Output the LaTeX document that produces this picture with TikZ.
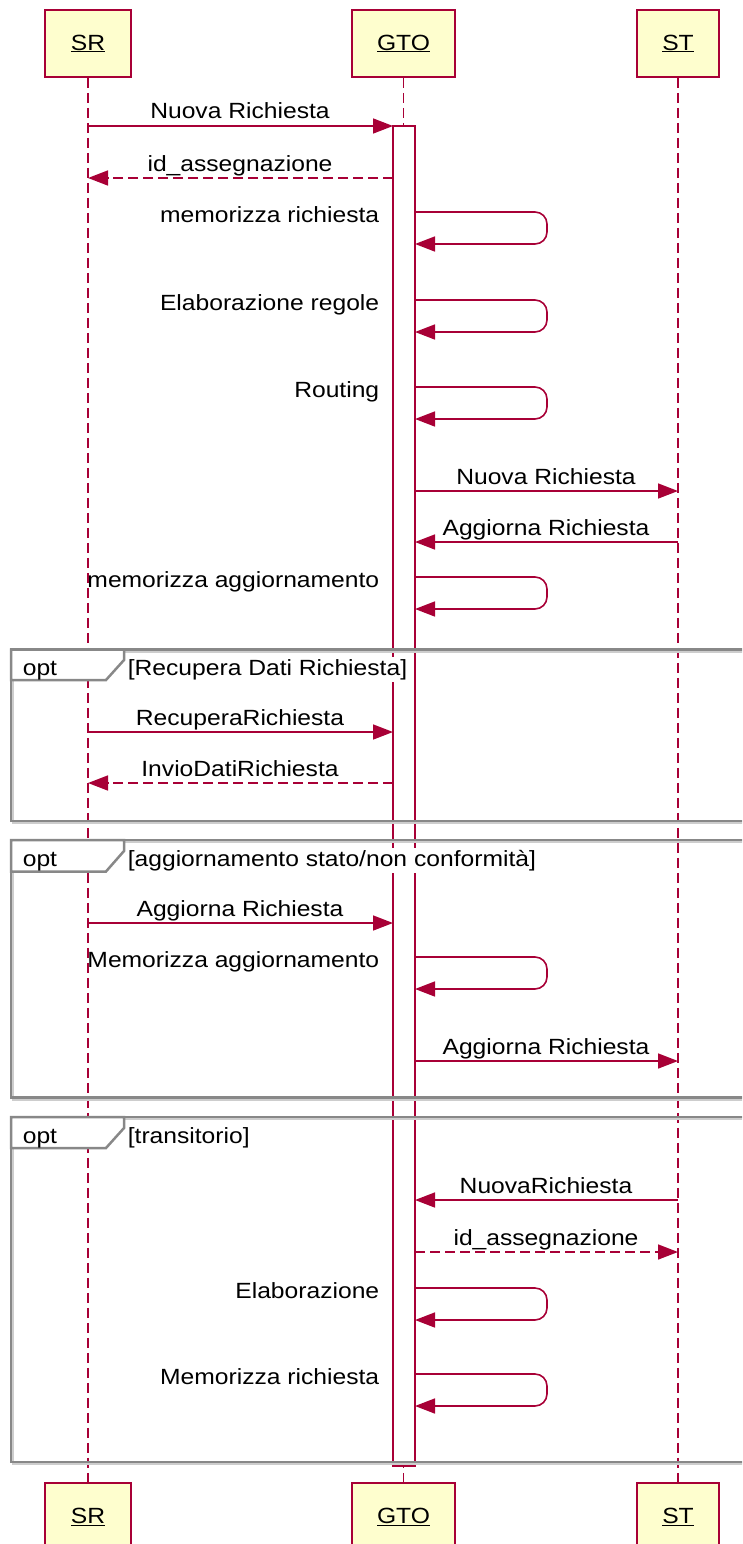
\documentclass[tikz,border=0pt]{standalone}
\usepackage{fontspec}
\setmainfont{Liberation Sans}[FakeStretch=1.12]
\usetikzlibrary{arrows.meta}

\definecolor{umlred}{RGB}{168,0,54}
\definecolor{umlfill}{RGB}{254,254,206}
\definecolor{frmgray}{RGB}{136,136,136}
\definecolor{frmshade}{RGB}{205,205,205}

\tikzset{every picture/.style={line width=1.6pt},
	every node/.style={font=\fontsize{22}{26}\selectfont},
	part/.style={draw=umlred, fill=umlfill, minimum height=67pt, inner sep=0pt},
	life/.style={draw=umlred, dash pattern=on 10pt off 5pt},
	actbar/.style={draw=umlred, fill=white, minimum width=22pt, minimum height=1340pt, inner sep=0pt, outer sep=0pt},
	msg/.style={draw=umlred, -{Triangle[length=20pt,width=15pt]}},
	ret/.style={msg, dash pattern=on 10pt off 5pt},
	selfmsg/.style={msg, rounded corners=12pt},
	lbl/.style={anchor=base, inner sep=0pt},
	selflbl/.style={anchor=base east, inner sep=0pt},
	optframe/.style={draw=frmgray, line width=2.5pt},
	optshade/.style={draw=frmshade, line width=2pt},
	guard/.style={anchor=base west, fill=white, inner xsep=1pt, inner ysep=2pt}}

\begin{document}
\begin{tikzpicture}[x=1pt,y=1pt,yscale=-1]
	\useasboundingbox (0,0) rectangle (742,1544);
	\clip (0,0) rectangle (742,1544);

	%Participants
	\node[part, minimum width=86pt] (SR) at (88,43.5) {\underline{SR}};
	\node[part, minimum width=103pt] (GTO) at (403.5,43.5) {\underline{GTO}};
	\node[part, minimum width=82pt] (ST) at (678,43.5) {\underline{ST}};
	\node[part, minimum width=86pt] (SRb) at (88,1516.5) {\underline{SR}};
	\node[part, minimum width=103pt] (GTOb) at (403.5,1516.5) {\underline{GTO}};
	\node[part, minimum width=82pt] (STb) at (678,1516.5) {\underline{ST}};

	%Lifelines
	\draw[life] (SR) -- (SRb);
	\draw[life] (GTO) -- (GTOb);
	\draw[life] (ST) -- (STb);

	%Activation
	\node[actbar] (act) at (404,796) {};

	%Frames
	\draw[optshade] (13,651.5) rectangle (760,823);
	\draw[optframe] (11,649.5) rectangle (760,821);
	\draw[optshade] (13,842) rectangle (760,1099.5);
	\draw[optframe] (11,840) rectangle (760,1097.5);
	\draw[optshade] (13,1119) rectangle (760,1464);
	\draw[optframe] (11,1117) rectangle (760,1462);

	%Shape: tabs
	\draw[optframe, fill=white] (11,649.5) -- (124,649.5) -- (124,660) -- (106,680) -- (11,680) -- cycle;
	\draw[optframe, fill=white] (11,840) -- (124,840) -- (124,851) -- (106,871.5) -- (11,871.5) -- cycle;
	\draw[optframe, fill=white] (11,1117) -- (124,1117) -- (124,1128) -- (106,1148) -- (11,1148) -- cycle;

	% Text Node
	\node[anchor=base west, inner sep=0pt] (o1) at (22,675) {opt};
	\node[guard] (g1) at (126,675) {[Recupera Dati Richiesta]};
	\node[anchor=base west, inner sep=0pt] (o2) at (22,866) {opt};
	\node[guard] (g2) at (126,866) {[aggiornamento stato/non conformità]};
	\node[anchor=base west, inner sep=0pt] (o3) at (22,1143) {opt};
	\node[guard] (g3) at (126,1143) {[transitorio]};

	%Message rows
	\coordinate (r1) at (0,126);
	\coordinate (r2) at (0,178);
	\coordinate (r3) at (0,491);
	\coordinate (r4) at (0,542);
	\coordinate (r5) at (0,732);
	\coordinate (r6) at (0,783);
	\coordinate (r7) at (0,923);
	\coordinate (r8) at (0,1061);
	\coordinate (r9) at (0,1200);
	\coordinate (r10) at (0,1252);

	%Straight Lines
	\draw[msg] (SR |- r1) -- (act.west |- r1);
	\draw[ret] (act.west |- r2) -- (SR |- r2);
	\draw[msg] (act.east |- r3) -- (ST |- r3);
	\draw[msg] (ST |- r4) -- (act.east |- r4);
	\draw[msg] (SR |- r5) -- (act.west |- r5);
	\draw[ret] (act.west |- r6) -- (SR |- r6);
	\draw[msg] (SR |- r7) -- (act.west |- r7);
	\draw[msg] (act.east |- r8) -- (ST |- r8);
	\draw[msg] (ST |- r9) -- (act.east |- r9);
	\draw[ret] (act.east |- r10) -- (ST |- r10);

	%Self loops
	\foreach \t in {212,300,387,577,957,1288,1374}
		\draw[selfmsg] (act.east |- 0,\t) -- ++(132,0) -- ++(0,32) -- ++(-132,0);

	% Text Node
	\node[lbl] (t1) at (240,119) {Nuova Richiesta};
	\node[lbl] (t2) at (240,171) {id\_assegnazione};
	\node[selflbl] (s1) at (380,222) {memorizza richiesta};
	\node[selflbl] (s2) at (380,310) {Elaborazione regole};
	\node[selflbl] (s3) at (380,397) {Routing};
	\node[lbl] (t3) at (546,484) {Nuova Richiesta};
	\node[lbl] (t4) at (546,535) {Aggiorna Richiesta};
	\node[selflbl] (s4) at (380,587) {memorizza aggiornamento};
	\node[lbl] (t5) at (240,725) {RecuperaRichiesta};
	\node[lbl] (t6) at (240,776) {InvioDatiRichiesta};
	\node[lbl] (t7) at (240,916) {Aggiorna Richiesta};
	\node[selflbl] (s5) at (380,967) {Memorizza aggiornamento};
	\node[lbl] (t8) at (546,1054) {Aggiorna Richiesta};
	\node[lbl] (t9) at (546,1193) {NuovaRichiesta};
	\node[lbl] (t10) at (546,1245) {id\_assegnazione};
	\node[selflbl] (s6) at (380,1298) {Elaborazione};
	\node[selflbl] (s7) at (380,1384) {Memorizza richiesta};
\end{tikzpicture}
\end{document}
